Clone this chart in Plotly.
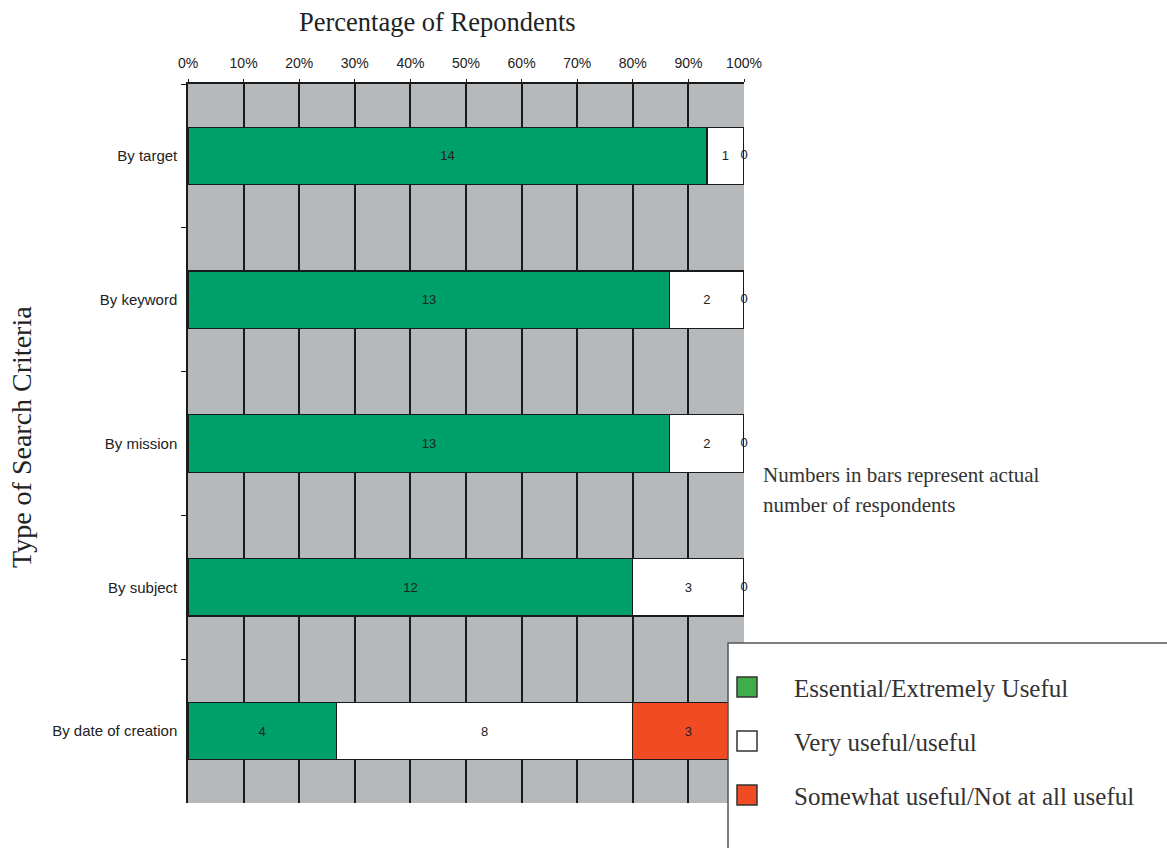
import plotly.graph_objects as go

categories = ["By target", "By keyword", "By mission", "By subject", "By date of creation"]
essential = [14, 13, 13, 12, 4]
very_useful = [1, 2, 2, 3, 8]
somewhat = [0, 0, 0, 0, 3]
series_names = ["Essential/Extremely Useful", "Very useful/useful", "Somewhat useful/Not at all useful"]
bar_colors = ["#00A06B", "#FFFFFF", "#F04B23"]
legend_colors = ["#3DAE4A", "#FFFFFF", "#F04B23"]

totals = [a + b + c for a, b, c in zip(essential, very_useful, somewhat)]
series = [essential, very_useful, somewhat]

W, H = 1167, 848
L, R, T, B = 188, 744, 84, 803
SANS = "Liberation Sans, Arial"
SERIF = "Liberation Serif, Times New Roman"

fig = go.Figure()
for name, vals, col in zip(series_names, series, bar_colors):
    frac = [v / t for v, t in zip(vals, totals)]
    fig.add_trace(go.Bar(
        y=categories, x=frac, name=name, orientation="h",
        marker=dict(color=col, line=dict(color="#1a1a1a", width=1.2)),
        width=0.4,
        text=[str(v) if v > 0 else "" for v in vals],
        textposition="inside", insidetextanchor="middle",
        textfont=dict(family=SANS, size=13, color="#222222"),
        showlegend=False,
    ))

# zero-count labels at the bar end
zx, zy, zt = [], [], []
for cat, a, b, c, t in zip(categories, essential, very_useful, somewhat, totals):
    if c == 0:
        zx.append((a + b + c) / t)
        zy.append(cat)
        zt.append(str(c))
fig.add_trace(go.Scatter(x=zx, y=zy, text=zt, mode="text", showlegend=False,
                         textfont=dict(family=SANS, size=13, color="#222222"),
                         cliponaxis=False, hoverinfo="skip"))

fig.update_layout(
    width=W, height=H,
    margin=dict(l=L, r=W - R, t=T, b=H - B),
    barmode="stack",
    bargap=0.6,
    plot_bgcolor="#B5B9BC",
    paper_bgcolor="white",
    showlegend=False,
    font=dict(family=SANS, size=13, color="#222222"),
)
fig.update_xaxes(
    side="top", range=[0, 1], dtick=0.1, tick0=0, tickformat=".0%",
    showgrid=True, gridcolor="#1a1a1a", gridwidth=1.5,
    showline=True, linecolor="#1a1a1a", linewidth=1.5,
    ticks="outside", ticklen=3, tickcolor="#1a1a1a",
    ticklabelstandoff=6,
    tickfont=dict(family=SANS, size=14, color="#222222"),
    zeroline=False, fixedrange=True,
)
fig.update_yaxes(
    categoryorder="array", categoryarray=categories,
    range=[4.5, -0.5], tickson="boundaries",
    showgrid=False, showline=True, linecolor="#1a1a1a", linewidth=1.5,
    ticks="outside", ticklen=5, tickcolor="#1a1a1a",
    ticklabelstandoff=6,
    tickfont=dict(family=SANS, size=15, color="#222222"),
)

def px(xp):
    return (xp - L) / (R - L)

def py(yp):
    return (B - yp) / (B - T)

# axis titles
fig.add_annotation(x=px(437), y=py(22), xref="paper", yref="paper", xanchor="center", yanchor="middle",
                   text="Percentage of Repondents", showarrow=False,
                   font=dict(family=SERIF, size=26.5, color="#222222"))
fig.add_annotation(x=px(22), y=py(437), xref="paper", yref="paper", xanchor="center", yanchor="middle",
                   text="Type of Search Criteria", showarrow=False, textangle=-90,
                   font=dict(family=SERIF, size=28, color="#222222"))

# note
fig.add_annotation(x=px(761), y=py(475), xref="paper", yref="paper", xanchor="left", yanchor="middle",
                   text="Numbers in bars represent actual", showarrow=False,
                   font=dict(family=SERIF, size=21, color="#333333"))
fig.add_annotation(x=px(761), y=py(505), xref="paper", yref="paper", xanchor="left", yanchor="middle",
                   text="number of respondents", showarrow=False,
                   font=dict(family=SERIF, size=21, color="#333333"))

# legend box
fig.add_shape(type="rect", xref="paper", yref="paper", x0=px(728), x1=px(1190), y0=py(870), y1=py(643),
              fillcolor="white", line=dict(color="#555555", width=1.5), layer="above")
for i, (name, col) in enumerate(zip(series_names, legend_colors)):
    cy = 687 + i * 54
    fig.add_shape(type="rect", xref="paper", yref="paper", x0=px(737), x1=px(757),
                  y0=py(cy + 10), y1=py(cy - 10), fillcolor=col,
                  line=dict(color="#333333", width=1.5), layer="above")
    fig.add_annotation(x=px(792), y=py(cy + 1), xref="paper", yref="paper", xanchor="left", yanchor="middle",
                       text=name, showarrow=False,
                       font=dict(family=SERIF, size=25, color="#333333"))

fig.write_html("out.html")
